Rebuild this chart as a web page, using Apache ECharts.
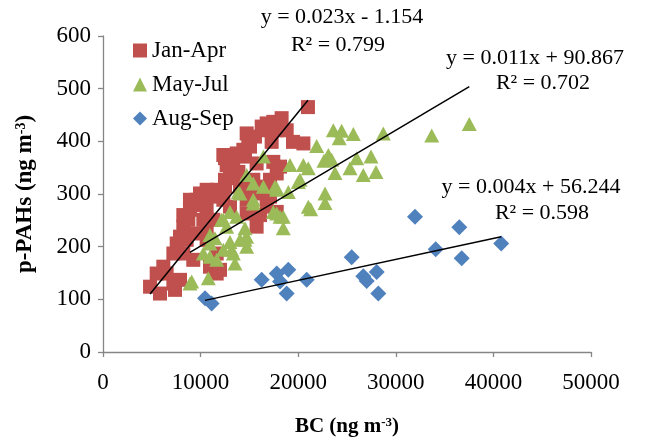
<!DOCTYPE html>
<html>
<head>
<meta charset="utf-8">
<script src="https://cdn.jsdelivr.net/npm/echarts@6/dist/echarts.min.js"></script>
<style>
  html, body { margin: 0; padding: 0; background: #fff; }
  #chart { width: 646px; height: 439px; }
</style>
</head>
<body>
<div id="chart"></div>
<script>
// 数据 (BC, p-PAHs)
var seriesNames = ['Jan-Apr', 'May-Jul', 'Aug-Sep'];
var xTicks = [0, 10000, 20000, 30000, 40000, 50000];
var yTicks = [0, 100, 200, 300, 400, 500, 600];

var janApr = [
    [4820,124],[5840,111],[5500,149],[6180,162],[6520,149],[7210,130],[7890,137],[7380,118],
    [7210,187],[8230,187],[7550,206],[7890,219],[8570,213],[8230,238],[8740,251],[8910,270],
    [8230,260],[9600,225],[9250,175],[9600,289],[9940,301],[8910,289],[10100,279],[10620,276],
    [10280,251],[10620,238],[10620,213],[10960,162],[11650,187],[11300,251],[11990,156],[11650,149],
    [11300,295],[11650,308],[10620,308],[12330,289],[12500,327],[12500,314],[13010,330],[13010,276],
    [13340,339],[12670,355],[12500,368],[13340,365],[12330,374],[13700,377],[13870,342],[14380,314],
    [14380,384],[14550,371],[14040,314],[14720,289],[14720,263],[14720,415],[15060,390],[14890,396],
    [15570,409],[15400,327],[15740,301],[15740,238],[16090,260],[16770,276],[16770,314],[15740,358],
    [16260,428],[16770,434],[16770,421],[17280,399],[17450,437],[17450,361],[17110,327],[17110,295],
    [17800,339],[17800,266],[17800,421],[18140,352],[18300,444],[18820,421],[19470,399],[20530,396],
    [21000,465]
];
var mayJul = [
    [8910,130],[9090,134],[10790,140],[10280,187],[10960,181],[11650,175],[13520,168],[12330,194],
    [13190,194],[13350,187],[10960,206],[10960,222],[11475,216],[13010,209],[14040,213],[14550,213],
    [14720,219],[12150,251],[12330,251],[12670,238],[13010,266],[13700,257],[14550,235],[14720,200],
    [15400,282],[15400,289],[17450,266],[18140,257],[18470,257],[18470,235],[14040,301],[13870,304],
    [15400,320],[14720,336],[16430,314],[17620,314],[17800,308],[16430,371],[19160,355],[20530,355],
    [21035,349],[20010,323],[20180,327],[18990,304],[17800,311],[17800,263],[21035,276],[21280,271],
    [22750,283],[22750,301],[23770,340],[22640,363],[23430,365],[23090,374],[21890,391],[24200,406],
    [23600,421],[24450,420],[25650,414],[25310,349],[25990,368],[26670,336],[27460,371],[27970,342],
    [28720,415],[33680,411],[37530,433]
];
var augSep = [
    [10450,102],[11130,92],[16260,137],[17800,149],[18990,156],[18140,134],[18820,111],[20870,137],
    [25480,180],[26670,144],[27020,135],[28040,152],[28210,111],[31970,257],[34090,195],[36510,237],
    [36750,178],[40800,206]
];

// 趋势线端点
var janAprTrend = [[4820, 110], [21000, 478]];
var mayJulTrend = [[8910, 189], [37530, 504]];
var augSepTrend = [[10450, 98], [40800, 219]];

var trendText = [
    ['y = 0.023x - 1.154', 'R² = 0.799'],
    ['y = 0.011x + 90.867', 'R² = 0.702'],
    ['y = 0.004x + 56.244', 'R² = 0.598']
];

var serif = 'Liberation Serif, Times New Roman, serif';
var axisGray = '#868686';

var myChart = echarts.init(document.getElementById('chart'), null, {renderer: 'canvas'});

function eqText(txt, x, y) {
    return {
        type: 'text', x: x, y: y, z: 100,
        style: {
            text: txt, align: 'center', verticalAlign: 'middle',
            fontSize: 22, fontFamily: serif, fill: '#000'
        }
    };
}

function trendSeries(data) {
    return {
        type: 'line', data: data, symbol: 'none', silent: true, z: 10,
        lineStyle: {color: '#000', width: 1.5}, legendHoverLink: false
    };
}

function nameRich(size) {
    return {
        a: {fontSize: size, fontWeight: 'bold', fontFamily: serif, color: '#000'},
        sup: {fontSize: Math.round(size * 0.62), fontWeight: 'bold', fontFamily: serif, color: '#000',
            verticalAlign: 'top', padding: [0, 0, 7, 0]}
    };
}

myChart.setOption({
    animation: false,
    grid: {left: 103, right: 55, top: 36, bottom: 87, outerBoundsMode: 'none', containLabel: false},
    legend: {
        data: [
            {name: seriesNames[0], icon: 'rect'},
            {name: seriesNames[1], icon: 'triangle'},
            {name: seriesNames[2], icon: 'diamond'}
        ],
        orient: 'vertical',
        left: 128, top: 34,
        itemWidth: 14, itemHeight: 14, itemGap: 11,
        textStyle: {fontSize: 23, fontFamily: serif, color: '#000'}
    },
    xAxis: {
        type: 'value', min: xTicks[0], max: xTicks[xTicks.length - 1], interval: 10000,
        name: '{a|BC (ng m}{sup|-3}{a|)}',
        nameLocation: 'middle', nameGap: 64,
        nameTextStyle: {rich: nameRich(21)},
        axisLine: {show: true, lineStyle: {color: axisGray, width: 1.3}},
        axisTick: {show: true, inside: false, length: 5, lineStyle: {color: axisGray, width: 1.3}},
        splitLine: {show: false},
        axisLabel: {fontSize: 23, fontFamily: serif, color: '#000', margin: 19,
            formatter: function (v) { return String(v); }}
    },
    yAxis: {
        type: 'value', min: yTicks[0], max: yTicks[yTicks.length - 1], interval: 100,
        name: '{a|p-PAHs (ng m}{sup|-3}{a|)}',
        nameLocation: 'middle', nameGap: 66, nameRotate: 90,
        nameTextStyle: {rich: nameRich(23)},
        axisLine: {show: true, lineStyle: {color: axisGray, width: 1.3}},
        axisTick: {show: true, inside: false, length: 5, lineStyle: {color: axisGray, width: 1.3}},
        splitLine: {show: false},
        axisLabel: {fontSize: 23, fontFamily: serif, color: '#000', margin: 12,
            formatter: function (v) { return String(v); }}
    },
    series: [
        {name: seriesNames[0], type: 'scatter', data: janApr, symbol: 'rect', symbolSize: 14,
            itemStyle: {color: '#C0504D', opacity: 1}, z: 2},
        {name: seriesNames[1], type: 'scatter', data: mayJul, symbol: 'triangle', symbolSize: [15, 14],
            itemStyle: {color: '#9BBB59', opacity: 1}, z: 3},
        {name: seriesNames[2], type: 'scatter', data: augSep, symbol: 'diamond', symbolSize: 16,
            itemStyle: {color: '#4F81BD', opacity: 1}, z: 4},
        trendSeries(janAprTrend),
        trendSeries(mayJulTrend),
        trendSeries(augSepTrend)
    ],
    graphic: [
        eqText(trendText[0][0], 342, 17),
        eqText(trendText[0][1], 338, 45),
        eqText(trendText[1][0], 535, 58),
        eqText(trendText[1][1], 543, 83),
        eqText(trendText[2][0], 531, 187),
        eqText(trendText[2][1], 542, 213)
    ]
});

window.addEventListener('resize', function () {
    myChart.resize();
});
</script>
</body>
</html>
